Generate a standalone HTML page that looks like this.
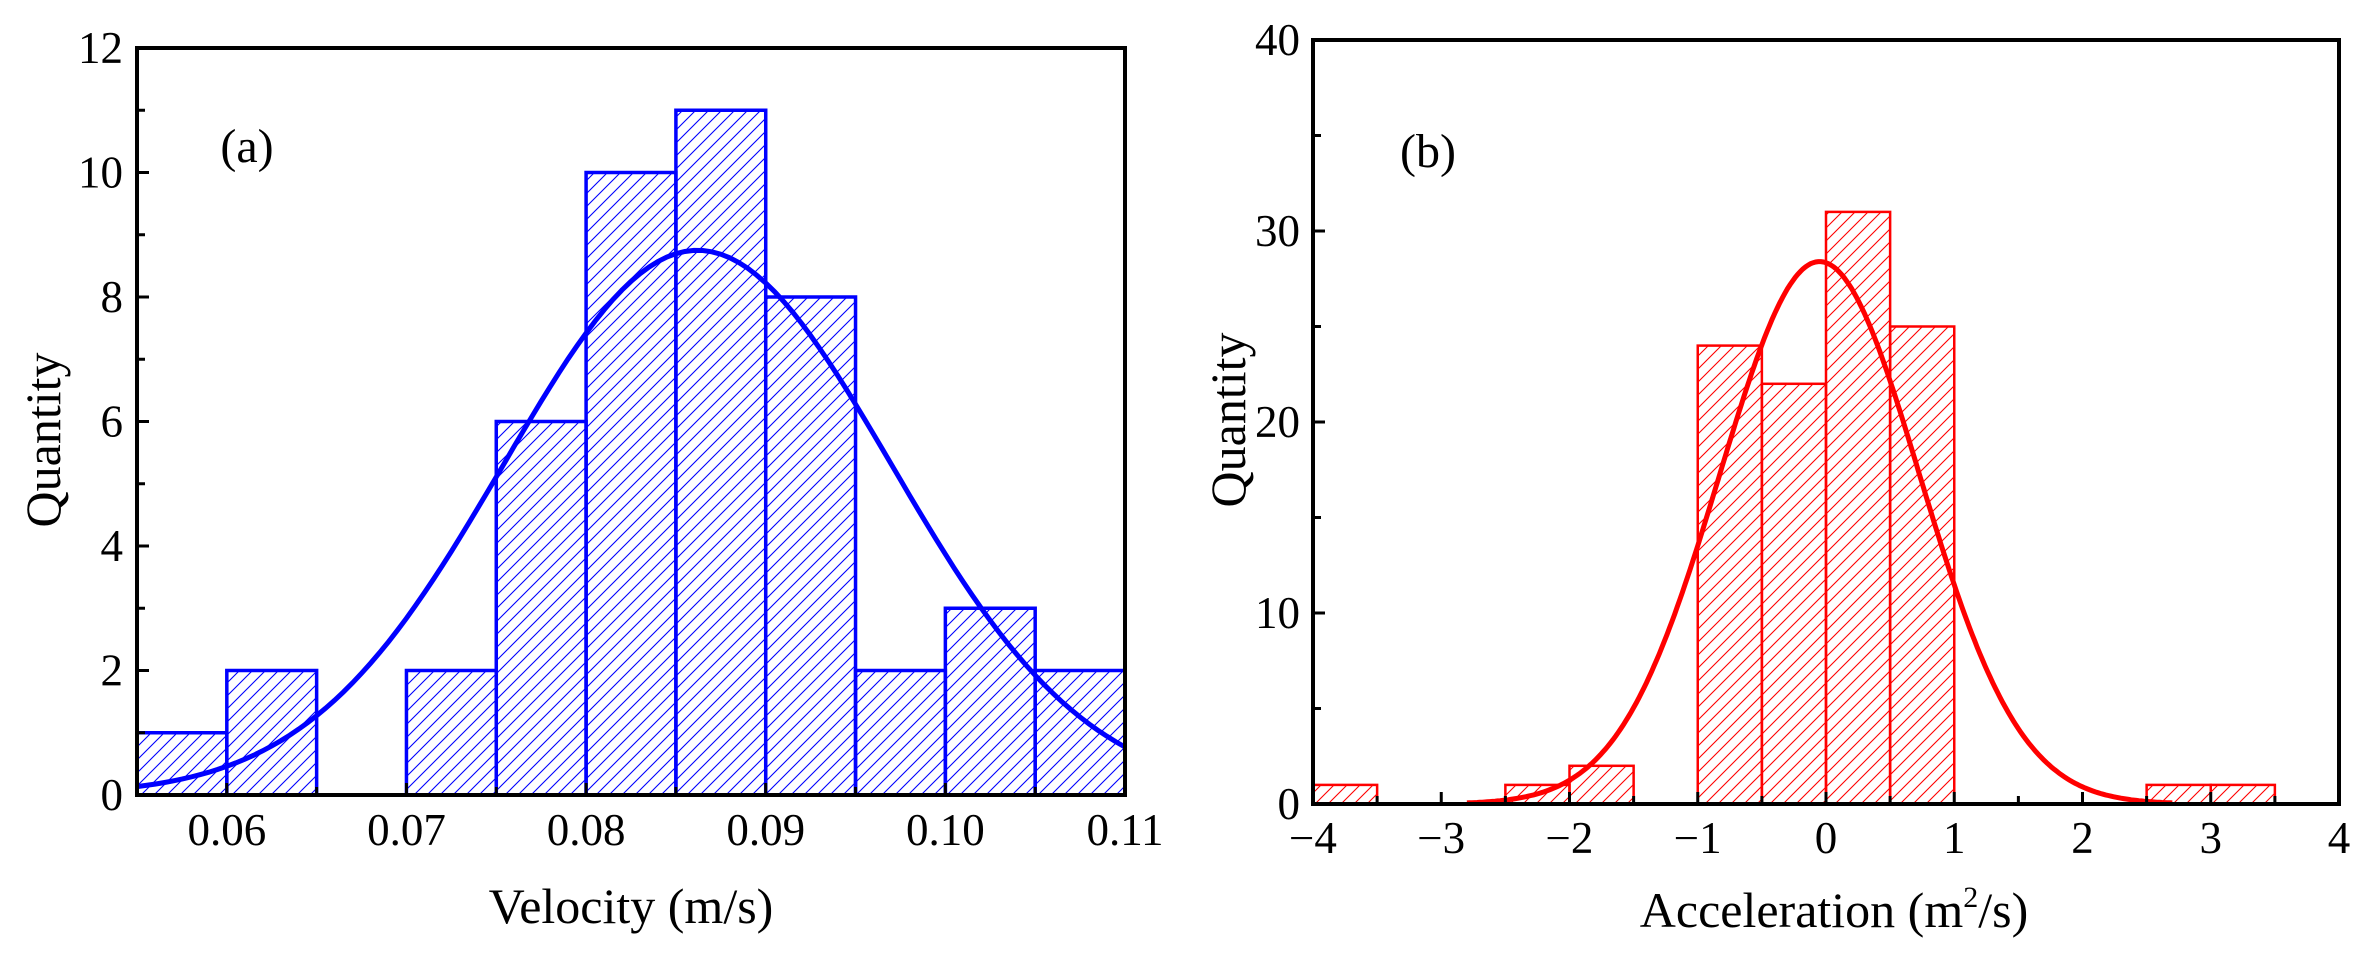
<!DOCTYPE html>
<html><head><meta charset="utf-8"><style>html,body{margin:0;padding:0;background:#fff}svg{display:block}text{font-family:"Liberation Serif",serif;fill:#000}</style></head>
<body>
<svg id="s" width="2371" height="962" viewBox="0 0 2371 962" xmlns="http://www.w3.org/2000/svg">
<defs>
<pattern id="hb" patternUnits="userSpaceOnUse" width="13" height="13"><path d="M-2,15 L15,-2 M-2,2 L2,-2 M11,15 L15,11" stroke="#0000ff" stroke-width="1.1"/></pattern>
<pattern id="hr" patternUnits="userSpaceOnUse" width="13" height="13"><path d="M-2,15 L15,-2 M-2,2 L2,-2 M11,15 L15,11" stroke="#ff0000" stroke-width="1.1"/></pattern>
</defs>
<g id="L"></g>
<g id="R"></g>
<text x="247" y="162" font-size="48" text-anchor="middle">(a)</text>
<text x="1428" y="167" font-size="48" text-anchor="middle">(b)</text>
<text x="631" y="923" font-size="50" text-anchor="middle">Velocity (m/s)</text>
<text x="1834" y="927" font-size="50" text-anchor="middle">Acceleration (m<tspan font-size="30" dy="-20">2</tspan><tspan dy="20">/s)</tspan></text>
<text transform="translate(60,440) rotate(-90)" font-size="50" text-anchor="middle">Quantity</text>
<text transform="translate(1245,420) rotate(-90)" font-size="50" text-anchor="middle">Quantity</text>
</svg>
<script>
var NS="http://www.w3.org/2000/svg";
function el(p,t,a,txt){var e=document.createElementNS(NS,t);for(var k in a)e.setAttribute(k,a[k]);if(txt!==undefined)e.textContent=txt;p.appendChild(e);return e;}
var L=document.getElementById("L");
var lx0=137,lx1=1125,ly0=795,ly1=48;
function LX(v){return lx0+(v-0.055)/0.055*(lx1-lx0);}
function LY(n){return ly0-n*(ly0-ly1)/12;}
var lb=[1,2,0,2,6,10,11,8,2,3,2];
for(var i=0;i<lb.length;i++){if(!lb[i])continue;var a=LX(0.055+i*0.005),b=LX(0.06+i*0.005);
el(L,"rect",{x:a,y:LY(lb[i]),width:b-a,height:LY(0)-LY(lb[i]),fill:"url(#hb)",stroke:"#0000ff","stroke-width":3.5});}
var d="";for(var v=0.055;v<=0.11001;v+=0.0005){var y=8.75*Math.exp(-Math.pow(v-0.0862,2)/(2*0.0108*0.0108));d+=(d?"L":"M")+LX(v).toFixed(1)+","+LY(y).toFixed(1);}
el(L,"path",{d:d,fill:"none",stroke:"#0000ff","stroke-width":5});
el(L,"path",{d:"M"+lx0+","+ly1+"H"+lx1+"V"+ly0+"H"+lx0+"Z",fill:"none",stroke:"#000","stroke-width":4});
for(var n=0;n<=12;n++){var y=LY(n);el(L,"line",{x1:lx0,x2:lx0+(n%2?8:12),y1:y,y2:y,stroke:"#000","stroke-width":3});
if(n%2==0)el(L,"text",{x:123,y:y+15,"font-size":45,"text-anchor":"end"},""+n);}
for(var k=0;k<=11;k++){var v=0.055+k*0.005,x=LX(v);el(L,"line",{x1:x,x2:x,y1:ly0,y2:ly0-(k%2?12:8),stroke:"#000","stroke-width":3});
if(k%2)el(L,"text",{x:x,y:845,"font-size":45,"text-anchor":"middle"},v.toFixed(2));}
var R=document.getElementById("R");
var rx0=1313,rx1=2339,ry0=804,ry1=40;
function RX(a){return rx0+(a+4)/8*(rx1-rx0);}
function RY(n){return ry0-n*(ry0-ry1)/40;}
var rb=[[-4,1],[-2.5,1],[-2,2],[-1,24],[-0.5,22],[0,31],[0.5,25],[2.5,1],[3,1]];
rb.forEach(function(q){var a=RX(q[0]),b=RX(q[0]+0.5);el(R,"rect",{x:a,y:RY(q[1]),width:b-a,height:RY(0)-RY(q[1]),fill:"url(#hr)",stroke:"#ff0000","stroke-width":2.5});});
d="";for(var a=-2.8;a<=2.7001;a+=0.02){var y=28.4*Math.exp(-Math.pow(a+0.05,2)/(2*0.78*0.78));d+=(d?"L":"M")+RX(a).toFixed(1)+","+RY(y).toFixed(1);}
el(R,"path",{d:d,fill:"none",stroke:"#ff0000","stroke-width":5});
el(R,"path",{d:"M"+rx0+","+ry1+"H"+rx1+"V"+ry0+"H"+rx0+"Z",fill:"none",stroke:"#000","stroke-width":4});
for(var n=0;n<=40;n+=5){var y=RY(n);el(R,"line",{x1:rx0,x2:rx0+(n%10?8:12),y1:y,y2:y,stroke:"#000","stroke-width":3});
if(n%10==0)el(R,"text",{x:1300,y:y+15,"font-size":45,"text-anchor":"end"},""+n);}
for(var k=0;k<=16;k++){var a=-4+k*0.5,x=RX(a);el(R,"line",{x1:x,x2:x,y1:ry0,y2:ry0-(k%2?8:12),stroke:"#000","stroke-width":3});
if(k%2==0)el(R,"text",{x:x,y:853,"font-size":45,"text-anchor":"middle"},(a<0?"\u2212":"")+Math.abs(a));}
</script>
</body></html>
